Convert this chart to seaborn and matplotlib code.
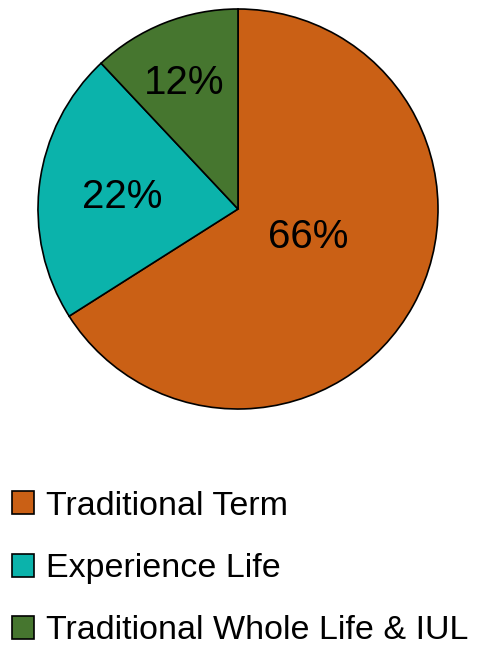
import matplotlib
matplotlib.use("Agg")
import matplotlib.pyplot as plt
import seaborn as sns
from matplotlib.patches import Patch

categories = ["Traditional Term", "Experience Life", "Traditional Whole Life & IUL"]
shares = [66, 22, 12]
colors = ["#CA6015", "#0BB3AB", "#46762F"]

sns.set_theme(style="white")
plt.rcParams['font.family'] = ['Liberation Sans Narrow', 'Liberation Sans', 'DejaVu Sans']

W, H = 479, 648
fig = plt.figure(figsize=(W / 100, H / 100), dpi=100)
cx, cy, r = 238, 209, 201
ax = fig.add_axes([(cx - r) / W, (H - cy - r) / H, 2 * r / W, 2 * r / H])

wedges, texts, autotexts = ax.pie(
    shares, colors=colors, startangle=90, counterclock=False,
    autopct=lambda p: f"{p:.0f}%",
    wedgeprops=dict(edgecolor="black", linewidth=1.2),
    textprops=dict(fontsize=29, color="black"),
)
label_pos = [(0.35, -0.14), (-0.58, 0.06), (-0.27, 0.63)]
for t, (x, y) in zip(autotexts, label_pos):
    t.set_position((x, y))
    t.set_ha("center")
    t.set_va("center")
ax.set_xlim(-1.005, 1.005)
ax.set_ylim(-1.005, 1.005)
ax.set_aspect("equal")
ax.axis("off")

handles = [Patch(facecolor=c, edgecolor="black", linewidth=1.2) for c in colors]
fig.legend(handles, categories, loc="upper left", bbox_to_anchor=(5 / W, 1 - 484 / H),
           frameon=False, fontsize=24.5, labelcolor="black",
           handlelength=0.65, handleheight=0.65,
           handletextpad=0.35, labelspacing=0.92, borderaxespad=0, borderpad=0.2)

fig.savefig("out.png", dpi=100)
